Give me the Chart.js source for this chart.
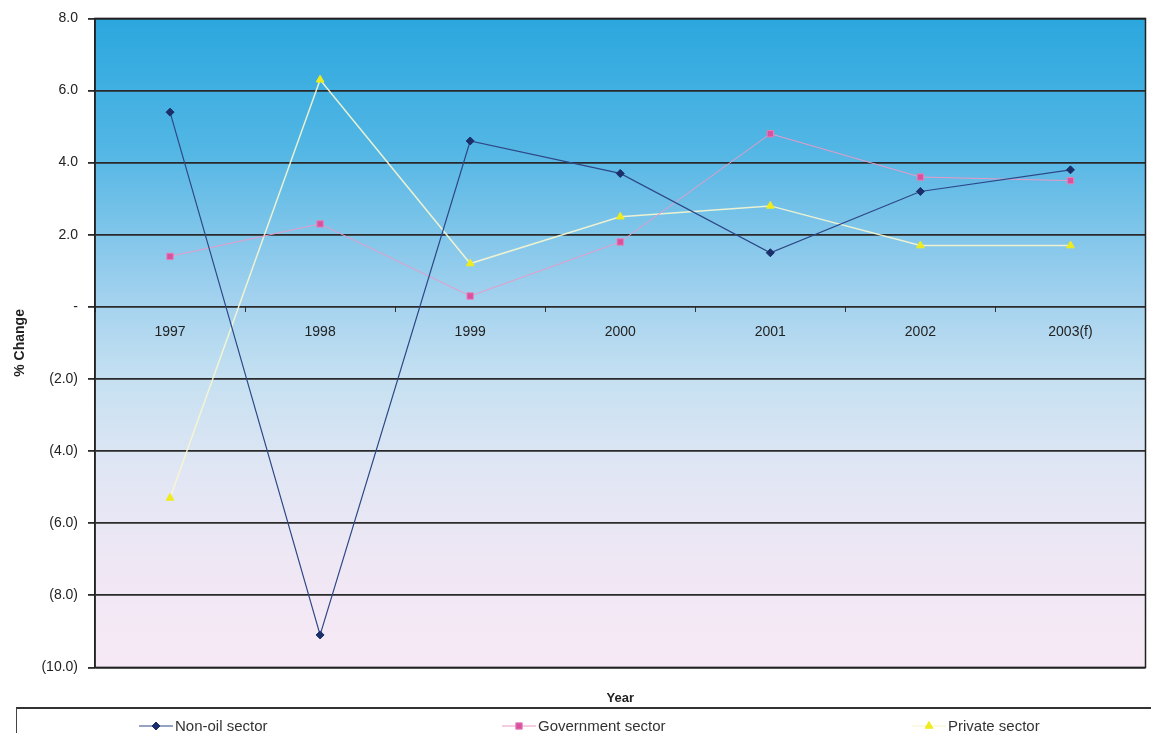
<!DOCTYPE html>
<html lang="en">
<head>
  <meta charset="UTF-8">
  <title>% Change by sector</title>
  <script src="https://cdn.jsdelivr.net/npm/chart.js"></script>
  <style>
    body {
      margin: 0;
      background: #fff;
      font-family: "Liberation Sans", Arial, sans-serif;
    }
    #wrap {
      position: relative;
      width: 1151px;
      height: 733px;
      overflow: hidden;
    }
    #chartBox {
      position: absolute;
      left: 0;
      top: 0;
      width: 1151px;
      height: 708px;
    }
    #legend {
      position: absolute;
      left: 16px;
      top: 707px;
      width: 1150px;
      height: 40px;
      border-top: 2px solid #333;
      border-left: 1px solid #444;
    }
    .item {
      position: absolute;
      top: 8px;
      display: flex;
      align-items: center;
      font-size: 15px;
      color: #333;
    }
    .item canvas { margin-right: 2px; }
  </style>
</head>
<body>
  <div id="wrap">
    <div id="chartBox"><canvas id="chart"></canvas></div>
    <div id="legend"></div>
  </div>

  <script>
    const years = ['1997', '1998', '1999', '2000', '2001', '2002', '2003(f)'];
    const nonOil = [5.4, -9.1, 4.6, 3.7, 1.5, 3.2, 3.8];
    const government = [1.4, 2.3, 0.3, 1.8, 4.8, 3.6, 3.5];
    const privateSector = [-5.3, 6.3, 1.2, 2.5, 2.8, 1.7, 1.7];
    const yTickLabels = ['(10.0)', '(8.0)', '(6.0)', '(4.0)', '(2.0)', '-', '2.0', '4.0', '6.0', '8.0'];

    // blue-to-pink fill behind the plot, plus the frame
    const plotBackground = {
      id: 'plotBackground',
      beforeDraw(chart) {
        const { ctx, chartArea: a } = chart;
        const g = ctx.createLinearGradient(0, a.top, 0, a.bottom);
        g.addColorStop(0, '#2ba7de');
        g.addColorStop(0.2, '#52b6e4');
        g.addColorStop(0.42, '#9fd0ee');
        g.addColorStop(0.55, '#c4e0f1');
        g.addColorStop(0.7, '#e1e6f4');
        g.addColorStop(0.85, '#f0e7f4');
        g.addColorStop(1, '#f7e9f6');
        ctx.save();
        ctx.fillStyle = g;
        ctx.fillRect(a.left, a.top, a.width, a.height);
        ctx.restore();
      },
      afterDraw(chart) {
        const { ctx, chartArea: a } = chart;
        ctx.save();
        ctx.strokeStyle = '#222';
        ctx.lineWidth = 1.5;
        ctx.strokeRect(a.left, a.top, a.width, a.height);
        ctx.restore();
      }
    };

    const ctx = document.getElementById('chart').getContext('2d');
    const chart = new Chart(ctx, {
      type: 'line',
      data: {
        labels: years,
        datasets: [
          {
            label: 'Non-oil sector',
            data: nonOil,
            borderColor: '#2d4886',
            borderWidth: 1.2,
            pointStyle: 'rectRot',
            pointRadius: 4,
            pointBackgroundColor: '#1b2f6a',
            pointBorderColor: '#1b2f6a',
            pointBorderWidth: 1,
            tension: 0
          },
          {
            label: 'Government sector',
            data: government,
            borderColor: '#e99bc8',
            borderWidth: 1,
            pointStyle: 'rect',
            pointRadius: 4.5,
            pointBackgroundColor: '#d8509e',
            pointBorderColor: '#e480b9',
            pointBorderWidth: 1,
            tension: 0
          },
          {
            label: 'Private sector',
            data: privateSector,
            borderColor: 'rgba(248,246,208,0.9)',
            borderWidth: 1.5,
            pointStyle: 'triangle',
            pointRadius: 4.5,
            pointBackgroundColor: '#eeec1c',
            pointBorderColor: '#eeec1c',
            pointBorderWidth: 1,
            tension: 0
          }
        ]
      },
      options: {
        responsive: true,
        maintainAspectRatio: false,
        animation: false,
        layout: { padding: { top: 9, right: 5, left: 0, bottom: 0 } },
        scales: {
          x: {
            type: 'category',
            position: { y: 0 },
            offset: true,
            grid: {
              drawOnChartArea: false,
              offset: true,
              tickLength: 5,
              color: '#333'
            },
            border: { display: false },
            ticks: {
              color: '#222',
              padding: 12,
              maxRotation: 0,
              font: { family: 'Liberation Sans', size: 14 }
            }
          },
          y: {
            min: -10,
            max: 8,
            ticks: {
              stepSize: 2,
              color: '#222',
              padding: 10,
              font: { family: 'Liberation Sans', size: 14 },
              callback: (v, i) => yTickLabels[i]
            },
            grid: {
              color: '#2a2a2a',
              lineWidth: 1.8,
              tickLength: 7
            },
            border: { color: '#222', width: 1.5 },
            title: {
              display: true,
              text: '% Change',
              color: '#222',
              font: { family: 'Liberation Sans', size: 14, weight: 'bold' },
              padding: { top: 12, bottom: 0 }
            },
            afterFit(scale) { scale.width = 95; }
          }
        },
        plugins: {
          legend: { display: false },
          tooltip: { enabled: false },
          title: {
            display: true,
            position: 'bottom',
            fullSize: false,
            text: 'Year',
            color: '#222',
            font: { family: 'Liberation Sans', size: 13, weight: 'bold' },
            padding: { top: 23, bottom: 2 }
          }
        }
      },
      plugins: [plotBackground]
    });

    // legend below the chart, spread across the box like the original
    const legendLefts = [122, 485, 895];
    const legendBox = document.getElementById('legend');
    chart.data.datasets.forEach((ds, i) => {
      const item = document.createElement('div');
      item.className = 'item';
      item.style.left = legendLefts[i] + 'px';
      const c = document.createElement('canvas');
      c.width = 34;
      c.height = 14;
      const lc = c.getContext('2d');
      lc.strokeStyle = ds.borderColor;
      lc.lineWidth = ds.borderWidth;
      lc.beginPath();
      lc.moveTo(0, 7);
      lc.lineTo(34, 7);
      lc.stroke();
      lc.fillStyle = ds.pointBackgroundColor;
      lc.strokeStyle = ds.pointBorderColor;
      lc.lineWidth = 1;
      Chart.helpers.drawPoint(lc, { pointStyle: ds.pointStyle, radius: ds.pointRadius, rotation: 0, borderWidth: 1 }, 17, 7);
      const t = document.createElement('span');
      t.textContent = ds.label;
      item.appendChild(c);
      item.appendChild(t);
      legendBox.appendChild(item);
    });
  </script>
</body>
</html>
